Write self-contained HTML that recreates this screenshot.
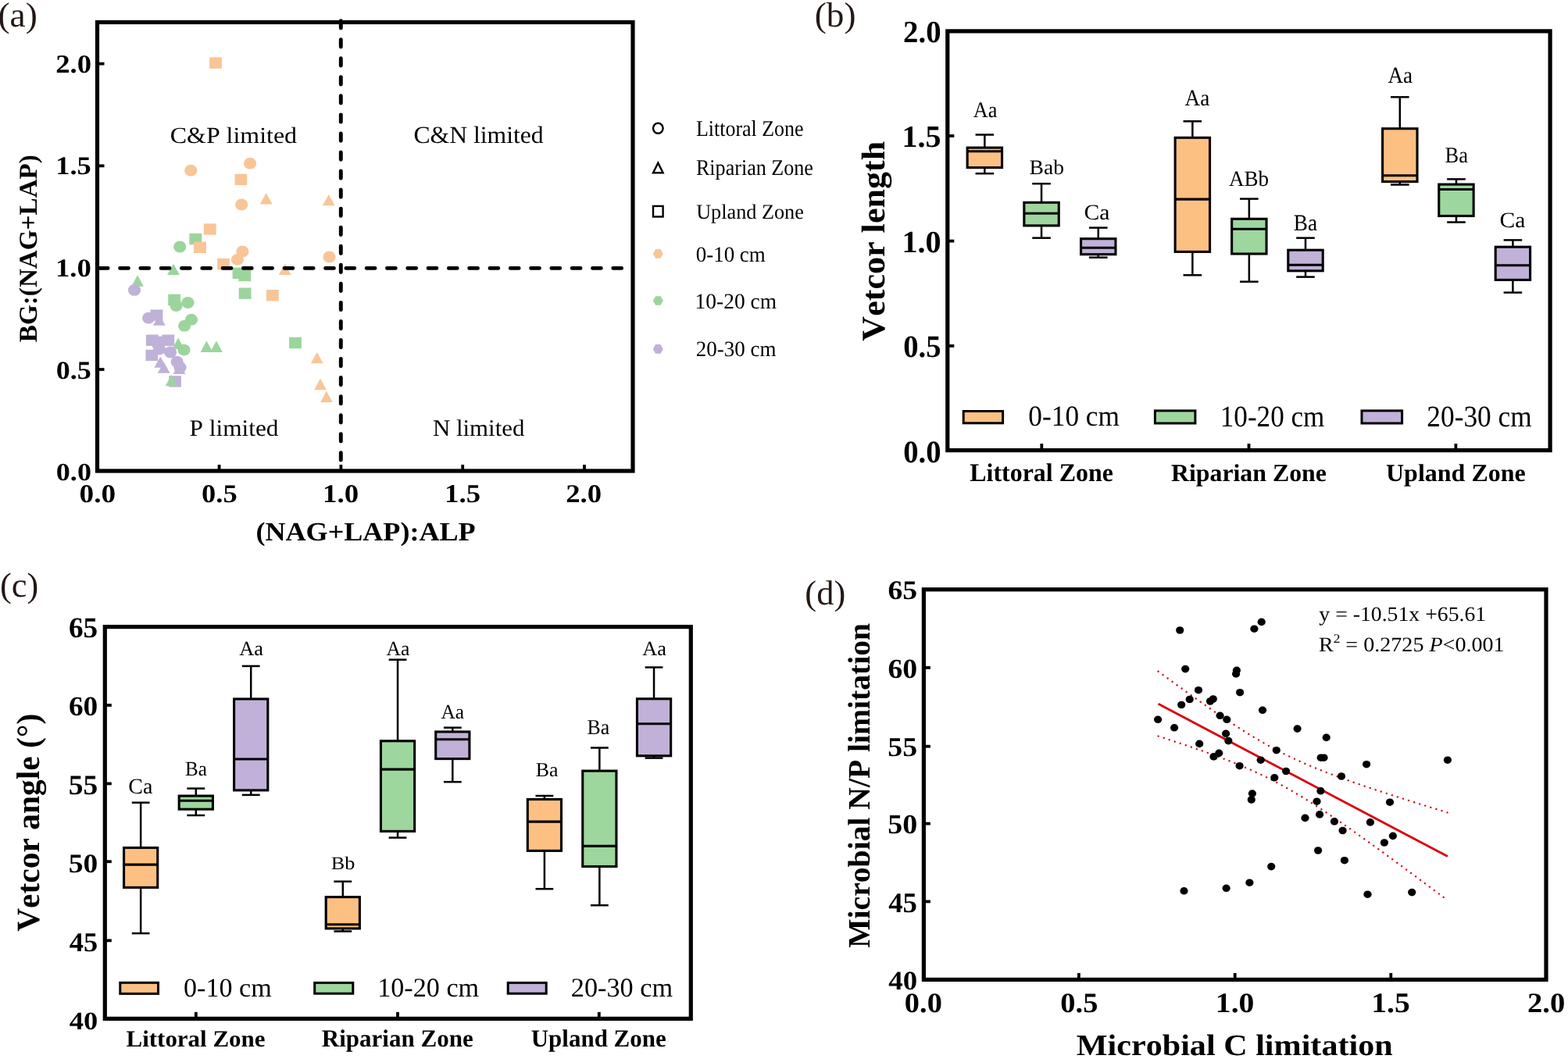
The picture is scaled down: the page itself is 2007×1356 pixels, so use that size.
<!DOCTYPE html>
<html><head><meta charset="utf-8"><title>Figure</title>
<style>
html,body{margin:0;padding:0;background:#fff;}
svg{display:block;}
text{font-kerning:none;text-rendering:geometricPrecision;}
</style></head><body>
<svg width="2007" height="1356" viewBox="0 0 2007 1356">
<rect width="2007" height="1356" fill="#fff"/>
<text transform="translate(-2.5,34.04) scale(1.0215,1)" style="font-family:'Liberation Serif',serif;font-size:44.45px" fill="#231815">(a)</text>
<text transform="translate(1042.81,34.11) scale(1.0138,1)" style="font-family:'Liberation Serif',serif;font-size:44.56px" fill="#231815">(b)</text>
<text transform="translate(0.05,764.19) scale(1.0045,1)" style="font-family:'Liberation Serif',serif;font-size:44.22px" fill="#231815">(c)</text>
<text transform="translate(1030.34,774.14) scale(1.0017,1)" style="font-family:'Liberation Serif',serif;font-size:44.45px" fill="#231815">(d)</text>
<rect x="192.6" y="396.4" width="15.8" height="14.4" fill="#c0b1d9"/>
<rect x="186.9" y="428.5" width="15.8" height="14.4" fill="#c0b1d9"/>
<rect x="207.4" y="428.5" width="15.8" height="14.4" fill="#c0b1d9"/>
<rect x="195" y="430.7" width="15.8" height="14.4" fill="#c0b1d9"/>
<rect x="186.4" y="447.7" width="15.8" height="14.4" fill="#c0b1d9"/>
<rect x="216.1" y="481.2" width="15.8" height="14.4" fill="#c0b1d9"/>
<rect x="242.4" y="298.8" width="15.8" height="14.4" fill="#9bd59c"/>
<rect x="297.6" y="342.6" width="15.8" height="14.4" fill="#9bd59c"/>
<rect x="305.4" y="345.8" width="15.8" height="14.4" fill="#9bd59c"/>
<rect x="305.7" y="368.5" width="15.8" height="14.4" fill="#9bd59c"/>
<rect x="215.2" y="376.7" width="15.8" height="14.4" fill="#9bd59c"/>
<rect x="370.1" y="431.8" width="15.8" height="14.4" fill="#9bd59c"/>
<rect x="268.1" y="73.4" width="15.8" height="14.4" fill="#f9c597"/>
<rect x="300.5" y="222.7" width="15.8" height="14.4" fill="#f9c597"/>
<rect x="260.8" y="286.3" width="15.8" height="14.4" fill="#f9c597"/>
<rect x="248.1" y="309.6" width="15.8" height="14.4" fill="#f9c597"/>
<rect x="278.1" y="330.9" width="15.8" height="14.4" fill="#f9c597"/>
<rect x="340.9" y="371" width="15.8" height="14.4" fill="#f9c597"/>
<path d="M203.8,402.4L211.7,416.8L195.9,416.8Z" fill="#c0b1d9"/>
<path d="M205.3,456.4L213.2,470.8L197.4,470.8Z" fill="#c0b1d9"/>
<path d="M209.7,463.4L217.6,477.8L201.8,477.8Z" fill="#c0b1d9"/>
<path d="M229.5,464.5L237.4,478.9L221.6,478.9Z" fill="#c0b1d9"/>
<path d="M222,337.7L229.9,352.1L214.1,352.1Z" fill="#9bd59c"/>
<path d="M176,352.3L183.9,366.7L168.1,366.7Z" fill="#9bd59c"/>
<path d="M264.4,436.5L272.3,450.9L256.5,450.9Z" fill="#9bd59c"/>
<path d="M276.9,436.5L284.8,450.9L269,450.9Z" fill="#9bd59c"/>
<path d="M228.1,432.6L236,447L220.2,447Z" fill="#9bd59c"/>
<path d="M219.5,479.9L227.4,494.3L211.6,494.3Z" fill="#9bd59c"/>
<path d="M340.7,247.1L348.6,261.5L332.8,261.5Z" fill="#f9c597"/>
<path d="M420.8,248.9L428.7,263.3L412.9,263.3Z" fill="#f9c597"/>
<path d="M364.7,337.7L372.6,352.1L356.8,352.1Z" fill="#f9c597"/>
<path d="M405.7,450.9L413.6,465.3L397.8,465.3Z" fill="#f9c597"/>
<path d="M410,484.8L417.9,499.2L402.1,499.2Z" fill="#f9c597"/>
<path d="M417.9,500.7L425.8,515.1L410,515.1Z" fill="#f9c597"/>
<ellipse cx="172" cy="371.4" rx="8.1" ry="7.4" fill="#c0b1d9"/>
<ellipse cx="190.1" cy="407.2" rx="8.1" ry="7.4" fill="#c0b1d9"/>
<ellipse cx="204" cy="447" rx="8.1" ry="7.4" fill="#c0b1d9"/>
<ellipse cx="218" cy="451" rx="8.1" ry="7.4" fill="#c0b1d9"/>
<ellipse cx="226.6" cy="463.2" rx="8.1" ry="7.4" fill="#c0b1d9"/>
<ellipse cx="230.5" cy="470.5" rx="8.1" ry="7.4" fill="#c0b1d9"/>
<ellipse cx="230.2" cy="316" rx="8.1" ry="7.4" fill="#9bd59c"/>
<ellipse cx="225.5" cy="391.5" rx="8.1" ry="7.4" fill="#9bd59c"/>
<ellipse cx="240.5" cy="387.5" rx="8.1" ry="7.4" fill="#9bd59c"/>
<ellipse cx="245" cy="409.2" rx="8.1" ry="7.4" fill="#9bd59c"/>
<ellipse cx="236.1" cy="417.2" rx="8.1" ry="7.4" fill="#9bd59c"/>
<ellipse cx="235.5" cy="448.1" rx="8.1" ry="7.4" fill="#9bd59c"/>
<ellipse cx="244.2" cy="218.2" rx="8.1" ry="7.4" fill="#f9c597"/>
<ellipse cx="320.1" cy="209.2" rx="8.1" ry="7.4" fill="#f9c597"/>
<ellipse cx="309.2" cy="262" rx="8.1" ry="7.4" fill="#f9c597"/>
<ellipse cx="310.4" cy="321.9" rx="8.1" ry="7.4" fill="#f9c597"/>
<ellipse cx="303.9" cy="332.3" rx="8.1" ry="7.4" fill="#f9c597"/>
<ellipse cx="421.5" cy="329" rx="8.1" ry="7.4" fill="#f9c597"/>
<line x1="127.25" y1="343.4" x2="807" y2="343.4" stroke="#000" stroke-width="4.8" stroke-linecap="round" stroke-dasharray="10.9 15.4"/>
<line x1="436.3" y1="26.6" x2="436.3" y2="601" stroke="#000" stroke-width="4.9" stroke-linecap="round" stroke-dasharray="9.3 14.75"/>
<rect x="124.5" y="28.5" width="685.5" height="574.5" fill="none" stroke="#000" stroke-width="5.2" stroke-linejoin="miter"/>
<line x1="124.5" y1="473.05" x2="133.5" y2="473.05" stroke="#000" stroke-width="3.8" />
<line x1="124.5" y1="212.35" x2="133.5" y2="212.35" stroke="#000" stroke-width="3.8" />
<line x1="124.5" y1="81.6" x2="133.5" y2="81.6" stroke="#000" stroke-width="3.8" />
<line x1="280.6" y1="603" x2="280.6" y2="595" stroke="#000" stroke-width="3.8" />
<line x1="592.2" y1="603" x2="592.2" y2="595" stroke="#000" stroke-width="3.8" />
<line x1="748" y1="603" x2="748" y2="595" stroke="#000" stroke-width="3.8" />
<line x1="124.5" y1="343.3" x2="133.5" y2="343.3" stroke="#000" stroke-width="3.8" />
<line x1="436.4" y1="603" x2="436.4" y2="595" stroke="#000" stroke-width="3.8" />
<text transform="translate(71.2,92.61) scale(1.1098,1)" style="font-family:'Liberation Serif',serif;font-weight:bold;font-size:33.16px" fill="#000">2.0</text>
<text transform="translate(71.18,223.43) scale(1.1069,1)" style="font-family:'Liberation Serif',serif;font-weight:bold;font-size:32.92px" fill="#000">1.5</text>
<text transform="translate(70.95,354.04) scale(1.1221,1)" style="font-family:'Liberation Serif',serif;font-weight:bold;font-size:32.83px" fill="#000">1.0</text>
<text transform="translate(71.83,484.74) scale(1.1037,1)" style="font-family:'Liberation Serif',serif;font-weight:bold;font-size:32.69px" fill="#000">0.5</text>
<text transform="translate(71.82,615.15) scale(1.1254,1)" style="font-family:'Liberation Serif',serif;font-weight:bold;font-size:32.10px" fill="#000">0.0</text>
<text transform="translate(101.58,642.73) scale(1.1314,1)" style="font-family:'Liberation Serif',serif;font-weight:bold;font-size:32.98px" fill="#000">0.0</text>
<text transform="translate(258.01,642.73) scale(1.1068,1)" style="font-family:'Liberation Serif',serif;font-weight:bold;font-size:32.98px" fill="#000">0.5</text>
<text transform="translate(412.94,642.73) scale(1.1198,1)" style="font-family:'Liberation Serif',serif;font-weight:bold;font-size:32.98px" fill="#000">1.0</text>
<text transform="translate(569.05,642.73) scale(1.1077,1)" style="font-family:'Liberation Serif',serif;font-weight:bold;font-size:33.22px" fill="#000">1.5</text>
<text transform="translate(724.16,642.73) scale(1.1145,1)" style="font-family:'Liberation Serif',serif;font-weight:bold;font-size:32.98px" fill="#000">2.0</text>
<text transform="translate(24.3,437.6) rotate(-90) translate(-0.55,22.88) scale(1.0063,1)" style="font-family:'Liberation Serif',serif;font-weight:bold;font-size:32.98px" fill="#000">BG:(NAG+LAP)</text>
<text transform="translate(327.41,692.1) scale(1.0694,1)" style="font-family:'Liberation Serif',serif;font-weight:bold;font-size:33.75px" fill="#000">(NAG+LAP):ALP</text>
<text transform="translate(217.79,183.21) scale(1.0904,1)" style="font-family:'Liberation Serif',serif;font-size:29.28px" fill="#000">C&amp;P limited</text>
<text transform="translate(529.4,183.3) scale(1.0223,1)" style="font-family:'Liberation Serif',serif;font-size:30.98px" fill="#000">C&amp;N limited</text>
<text transform="translate(242.6,558.41) scale(1.0535,1)" style="font-family:'Liberation Serif',serif;font-size:29.70px" fill="#000">P limited</text>
<text transform="translate(553.91,557.81) scale(1.0294,1)" style="font-family:'Liberation Serif',serif;font-size:29.99px" fill="#000">N limited</text>
<ellipse cx="842.3" cy="164.2" rx="6.3" ry="6.55" fill="none" stroke="#000" stroke-width="2.4"/>
<path d="M842.3,208.6L848.6,221.2L836,221.2Z" fill="none" stroke="#000" stroke-width="2.4" stroke-linejoin="miter"/>
<rect x="836" y="263.9" width="12.6" height="13.6" fill="none" stroke="#000" stroke-width="2.4"/>
<polygon points="848.8,324.95 845.55,330.8 839.05,330.8 835.8,324.95 839.05,319.1 845.55,319.1" fill="#f9c597"/>
<polygon points="848.8,385 845.55,390.85 839.05,390.85 835.8,385 839.05,379.15 845.55,379.15" fill="#9bd59c"/>
<polygon points="848.8,446.9 845.55,452.75 839.05,452.75 835.8,446.9 839.05,441.05 845.55,441.05" fill="#c0b1d9"/>
<text transform="translate(890.95,174.4) scale(0.9049,1)" style="font-family:'Liberation Serif',serif;font-size:28.68px" fill="#000">Littoral Zone</text>
<text transform="translate(890.95,223.9) scale(0.9097,1)" style="font-family:'Liberation Serif',serif;font-size:28.70px" fill="#000">Riparian Zone</text>
<text transform="translate(891.15,279.8) scale(0.9791,1)" style="font-family:'Liberation Serif',serif;font-size:26.81px" fill="#000">Upland Zone</text>
<text transform="translate(890.67,334.5) scale(0.9645,1)" style="font-family:'Liberation Serif',serif;font-size:27.97px" fill="#000">0-10 cm</text>
<text transform="translate(889.59,394.7) scale(0.9815,1)" style="font-family:'Liberation Serif',serif;font-size:27.97px" fill="#000">10-20 cm</text>
<text transform="translate(890.81,455.8) scale(0.9652,1)" style="font-family:'Liberation Serif',serif;font-size:27.97px" fill="#000">20-30 cm</text>
<line x1="1260.35" y1="172.5" x2="1260.35" y2="189.1" stroke="#000" stroke-width="2.5" />
<line x1="1260.35" y1="214.6" x2="1260.35" y2="222.2" stroke="#000" stroke-width="2.5" />
<line x1="1248.55" y1="172.5" x2="1272.15" y2="172.5" stroke="#000" stroke-width="2.5" />
<line x1="1248.55" y1="222.2" x2="1272.15" y2="222.2" stroke="#000" stroke-width="2.5" />
<rect x="1238.15" y="189.1" width="44.4" height="25.5" fill="#fdc083" stroke="#000" stroke-width="3.1"/>
<line x1="1238.15" y1="193.8" x2="1282.55" y2="193.8" stroke="#000" stroke-width="3.1" />
<line x1="1333.05" y1="235.2" x2="1333.05" y2="259.3" stroke="#000" stroke-width="2.5" />
<line x1="1333.05" y1="288.9" x2="1333.05" y2="304.7" stroke="#000" stroke-width="2.5" />
<line x1="1321.25" y1="235.2" x2="1344.85" y2="235.2" stroke="#000" stroke-width="2.5" />
<line x1="1321.25" y1="304.7" x2="1344.85" y2="304.7" stroke="#000" stroke-width="2.5" />
<rect x="1310.85" y="259.3" width="44.4" height="29.6" fill="#9dd79d" stroke="#000" stroke-width="3.1"/>
<line x1="1310.85" y1="273.3" x2="1355.25" y2="273.3" stroke="#000" stroke-width="3.1" />
<line x1="1405.75" y1="291.6" x2="1405.75" y2="305.7" stroke="#000" stroke-width="2.5" />
<line x1="1405.75" y1="325.7" x2="1405.75" y2="329.7" stroke="#000" stroke-width="2.5" />
<line x1="1393.95" y1="291.6" x2="1417.55" y2="291.6" stroke="#000" stroke-width="2.5" />
<line x1="1393.95" y1="329.7" x2="1417.55" y2="329.7" stroke="#000" stroke-width="2.5" />
<rect x="1383.55" y="305.7" width="44.4" height="20" fill="#c1b1d8" stroke="#000" stroke-width="3.1"/>
<line x1="1383.55" y1="317.2" x2="1427.95" y2="317.2" stroke="#000" stroke-width="3.1" />
<line x1="1526.35" y1="155.3" x2="1526.35" y2="176.3" stroke="#000" stroke-width="2.5" />
<line x1="1526.35" y1="322.4" x2="1526.35" y2="352.3" stroke="#000" stroke-width="2.5" />
<line x1="1514.55" y1="155.3" x2="1538.15" y2="155.3" stroke="#000" stroke-width="2.5" />
<line x1="1514.55" y1="352.3" x2="1538.15" y2="352.3" stroke="#000" stroke-width="2.5" />
<rect x="1504.15" y="176.3" width="44.4" height="146.1" fill="#fdc083" stroke="#000" stroke-width="3.1"/>
<line x1="1504.15" y1="255.1" x2="1548.55" y2="255.1" stroke="#000" stroke-width="3.1" />
<line x1="1598.85" y1="254.6" x2="1598.85" y2="280.3" stroke="#000" stroke-width="2.5" />
<line x1="1598.85" y1="325" x2="1598.85" y2="360.7" stroke="#000" stroke-width="2.5" />
<line x1="1587.05" y1="254.6" x2="1610.65" y2="254.6" stroke="#000" stroke-width="2.5" />
<line x1="1587.05" y1="360.7" x2="1610.65" y2="360.7" stroke="#000" stroke-width="2.5" />
<rect x="1576.65" y="280.3" width="44.4" height="44.7" fill="#9dd79d" stroke="#000" stroke-width="3.1"/>
<line x1="1576.65" y1="293.2" x2="1621.05" y2="293.2" stroke="#000" stroke-width="3.1" />
<line x1="1671" y1="304.7" x2="1671" y2="320.2" stroke="#000" stroke-width="2.5" />
<line x1="1671" y1="346.8" x2="1671" y2="354.6" stroke="#000" stroke-width="2.5" />
<line x1="1659.2" y1="304.7" x2="1682.8" y2="304.7" stroke="#000" stroke-width="2.5" />
<line x1="1659.2" y1="354.6" x2="1682.8" y2="354.6" stroke="#000" stroke-width="2.5" />
<rect x="1648.8" y="320.2" width="44.4" height="26.6" fill="#c1b1d8" stroke="#000" stroke-width="3.1"/>
<line x1="1648.8" y1="339.2" x2="1693.2" y2="339.2" stroke="#000" stroke-width="3.1" />
<line x1="1791.8" y1="124.3" x2="1791.8" y2="164.7" stroke="#000" stroke-width="2.5" />
<line x1="1791.8" y1="232.6" x2="1791.8" y2="236.5" stroke="#000" stroke-width="2.5" />
<line x1="1780" y1="124.3" x2="1803.6" y2="124.3" stroke="#000" stroke-width="2.5" />
<line x1="1780" y1="236.5" x2="1803.6" y2="236.5" stroke="#000" stroke-width="2.5" />
<rect x="1769.6" y="164.7" width="44.4" height="67.9" fill="#fdc083" stroke="#000" stroke-width="3.1"/>
<line x1="1769.6" y1="224.7" x2="1814" y2="224.7" stroke="#000" stroke-width="3.1" />
<line x1="1863.95" y1="229.4" x2="1863.95" y2="236.1" stroke="#000" stroke-width="2.5" />
<line x1="1863.95" y1="276.5" x2="1863.95" y2="284.5" stroke="#000" stroke-width="2.5" />
<line x1="1852.15" y1="229.4" x2="1875.75" y2="229.4" stroke="#000" stroke-width="2.5" />
<line x1="1852.15" y1="284.5" x2="1875.75" y2="284.5" stroke="#000" stroke-width="2.5" />
<rect x="1841.75" y="236.1" width="44.4" height="40.4" fill="#9dd79d" stroke="#000" stroke-width="3.1"/>
<line x1="1841.75" y1="242.5" x2="1886.15" y2="242.5" stroke="#000" stroke-width="3.1" />
<line x1="1936.4" y1="307.4" x2="1936.4" y2="316.2" stroke="#000" stroke-width="2.5" />
<line x1="1936.4" y1="358.4" x2="1936.4" y2="374.6" stroke="#000" stroke-width="2.5" />
<line x1="1924.6" y1="307.4" x2="1948.2" y2="307.4" stroke="#000" stroke-width="2.5" />
<line x1="1924.6" y1="374.6" x2="1948.2" y2="374.6" stroke="#000" stroke-width="2.5" />
<rect x="1914.2" y="316.2" width="44.4" height="42.2" fill="#c1b1d8" stroke="#000" stroke-width="3.1"/>
<line x1="1914.2" y1="339.7" x2="1958.6" y2="339.7" stroke="#000" stroke-width="3.1" />
<rect x="1212.8" y="39.9" width="771.3" height="536.7" fill="none" stroke="#000" stroke-width="5.2" stroke-linejoin="miter"/>
<line x1="1212.8" y1="174" x2="1221.3" y2="174" stroke="#000" stroke-width="3.8" />
<line x1="1212.8" y1="308.6" x2="1221.3" y2="308.6" stroke="#000" stroke-width="3.8" />
<line x1="1212.8" y1="442.9" x2="1221.3" y2="442.9" stroke="#000" stroke-width="3.8" />
<line x1="1333.3" y1="576.6" x2="1333.3" y2="568.1" stroke="#000" stroke-width="3.8" />
<line x1="1598.5" y1="576.6" x2="1598.5" y2="568.1" stroke="#000" stroke-width="3.8" />
<line x1="1863.4" y1="576.6" x2="1863.4" y2="568.1" stroke="#000" stroke-width="3.8" />
<text transform="translate(1156.07,54.24) scale(0.9798,1)" style="font-family:'Liberation Serif',serif;font-weight:bold;font-size:39.61px" fill="#000">2.0</text>
<text transform="translate(1154.49,188.34) scale(1.0117,1)" style="font-family:'Liberation Serif',serif;font-weight:bold;font-size:39.60px" fill="#000">1.5</text>
<text transform="translate(1154.49,322.64) scale(1.0128,1)" style="font-family:'Liberation Serif',serif;font-weight:bold;font-size:39.61px" fill="#000">1.0</text>
<text transform="translate(1156.23,457.23) scale(0.9646,1)" style="font-family:'Liberation Serif',serif;font-weight:bold;font-size:40.05px" fill="#000">0.5</text>
<text transform="translate(1156.23,591.63) scale(0.9622,1)" style="font-family:'Liberation Serif',serif;font-weight:bold;font-size:40.19px" fill="#000">0.0</text>
<text transform="translate(1102.8,436.2) rotate(-90) translate(-0.5,29.28) scale(1.0449,1)" style="font-family:'Liberation Serif',serif;font-weight:bold;font-size:42.21px" fill="#000">Vetcor length</text>
<text transform="translate(1241.25,616.18) scale(0.9731,1)" style="font-family:'Liberation Serif',serif;font-weight:bold;font-size:32.83px" fill="#000">Littoral Zone</text>
<text transform="translate(1498.96,616.39) scale(1.0091,1)" style="font-family:'Liberation Serif',serif;font-weight:bold;font-size:31.54px" fill="#000">Riparian Zone</text>
<text transform="translate(1774,616.39) scale(1.0151,1)" style="font-family:'Liberation Serif',serif;font-weight:bold;font-size:31.54px" fill="#000">Upland Zone</text>
<text transform="translate(1245.84,150.22) scale(0.9289,1)" style="font-family:'Liberation Serif',serif;font-size:28.36px" fill="#000">Aa</text>
<text transform="translate(1317.61,222.94) scale(1.0327,1)" style="font-family:'Liberation Serif',serif;font-size:26.72px" fill="#000">Bab</text>
<text transform="translate(1387.38,280.53) scale(1.0591,1)" style="font-family:'Liberation Serif',serif;font-size:27.98px" fill="#000">Ca</text>
<text transform="translate(1516.54,134.51) scale(0.9226,1)" style="font-family:'Liberation Serif',serif;font-size:29.41px" fill="#000">Aa</text>
<text transform="translate(1572.94,238.33) scale(0.9679,1)" style="font-family:'Liberation Serif',serif;font-size:28.00px" fill="#000">ABb</text>
<text transform="translate(1655.72,294.71) scale(0.9188,1)" style="font-family:'Liberation Serif',serif;font-size:29.64px" fill="#000">Ba</text>
<text transform="translate(1776.44,105.71) scale(0.9226,1)" style="font-family:'Liberation Serif',serif;font-size:29.41px" fill="#000">Aa</text>
<text transform="translate(1849.54,207.52) scale(0.9216,1)" style="font-family:'Liberation Serif',serif;font-size:28.74px" fill="#000">Ba</text>
<text transform="translate(1919.49,290.83) scale(1.0502,1)" style="font-family:'Liberation Serif',serif;font-size:28.13px" fill="#000">Ca</text>
<rect x="1233.2" y="526.5" width="50.4" height="15.3" fill="#fdc083" stroke="#000" stroke-width="3"/>
<text transform="translate(1316.36,545.44) scale(0.9485,1)" style="font-family:'Liberation Serif',serif;font-size:37.20px" fill="#000">0-10 cm</text>
<rect x="1478.4" y="525.9" width="51.5" height="16.1" fill="#9dd79d" stroke="#000" stroke-width="3"/>
<text transform="translate(1561.81,545.83) scale(0.9151,1)" style="font-family:'Liberation Serif',serif;font-size:38.38px" fill="#000">10-20 cm</text>
<rect x="1743" y="525.9" width="51.6" height="16.1" fill="#c1b1d8" stroke="#000" stroke-width="3"/>
<text transform="translate(1826.35,545.83) scale(0.9197,1)" style="font-family:'Liberation Serif',serif;font-size:38.38px" fill="#000">20-30 cm</text>
<line x1="180.15" y1="1027.7" x2="180.15" y2="1085.5" stroke="#000" stroke-width="2.5" />
<line x1="180.15" y1="1136.4" x2="180.15" y2="1195.1" stroke="#000" stroke-width="2.5" />
<line x1="168.75" y1="1027.7" x2="191.55" y2="1027.7" stroke="#000" stroke-width="2.5" />
<line x1="168.75" y1="1195.1" x2="191.55" y2="1195.1" stroke="#000" stroke-width="2.5" />
<rect x="158.55" y="1085.5" width="43.2" height="50.9" fill="#fdc083" stroke="#000" stroke-width="3.1"/>
<line x1="158.55" y1="1107.1" x2="201.75" y2="1107.1" stroke="#000" stroke-width="3.1" />
<line x1="250.8" y1="1009.6" x2="250.8" y2="1019.1" stroke="#000" stroke-width="2.5" />
<line x1="250.8" y1="1036.2" x2="250.8" y2="1044" stroke="#000" stroke-width="2.5" />
<line x1="239.4" y1="1009.6" x2="262.2" y2="1009.6" stroke="#000" stroke-width="2.5" />
<line x1="239.4" y1="1044" x2="262.2" y2="1044" stroke="#000" stroke-width="2.5" />
<rect x="229.2" y="1019.1" width="43.2" height="17.1" fill="#9dd79d" stroke="#000" stroke-width="3.1"/>
<line x1="229.2" y1="1025.3" x2="272.4" y2="1025.3" stroke="#000" stroke-width="3.1" />
<line x1="321.2" y1="852.9" x2="321.2" y2="895" stroke="#000" stroke-width="2.5" />
<line x1="321.2" y1="1011.9" x2="321.2" y2="1017.9" stroke="#000" stroke-width="2.5" />
<line x1="309.8" y1="852.9" x2="332.6" y2="852.9" stroke="#000" stroke-width="2.5" />
<line x1="309.8" y1="1017.9" x2="332.6" y2="1017.9" stroke="#000" stroke-width="2.5" />
<rect x="299.6" y="895" width="43.2" height="116.9" fill="#c1b1d8" stroke="#000" stroke-width="3.1"/>
<line x1="299.6" y1="972" x2="342.8" y2="972" stroke="#000" stroke-width="3.1" />
<line x1="438.8" y1="1128.7" x2="438.8" y2="1148.6" stroke="#000" stroke-width="2.5" />
<line x1="438.8" y1="1188.9" x2="438.8" y2="1192.5" stroke="#000" stroke-width="2.5" />
<line x1="427.4" y1="1128.7" x2="450.2" y2="1128.7" stroke="#000" stroke-width="2.5" />
<line x1="427.4" y1="1192.5" x2="450.2" y2="1192.5" stroke="#000" stroke-width="2.5" />
<rect x="417.2" y="1148.6" width="43.2" height="40.3" fill="#fdc083" stroke="#000" stroke-width="3.1"/>
<line x1="417.2" y1="1183.8" x2="460.4" y2="1183.8" stroke="#000" stroke-width="3.1" />
<line x1="509.05" y1="844.7" x2="509.05" y2="948.8" stroke="#000" stroke-width="2.5" />
<line x1="509.05" y1="1064.4" x2="509.05" y2="1072.6" stroke="#000" stroke-width="2.5" />
<line x1="497.65" y1="844.7" x2="520.45" y2="844.7" stroke="#000" stroke-width="2.5" />
<line x1="497.65" y1="1072.6" x2="520.45" y2="1072.6" stroke="#000" stroke-width="2.5" />
<rect x="487.45" y="948.8" width="43.2" height="115.6" fill="#9dd79d" stroke="#000" stroke-width="3.1"/>
<line x1="487.45" y1="985.1" x2="530.65" y2="985.1" stroke="#000" stroke-width="3.1" />
<line x1="579.3" y1="931.7" x2="579.3" y2="937" stroke="#000" stroke-width="2.5" />
<line x1="579.3" y1="971.6" x2="579.3" y2="1001.2" stroke="#000" stroke-width="2.5" />
<line x1="567.9" y1="931.7" x2="590.7" y2="931.7" stroke="#000" stroke-width="2.5" />
<line x1="567.9" y1="1001.2" x2="590.7" y2="1001.2" stroke="#000" stroke-width="2.5" />
<rect x="557.7" y="937" width="43.2" height="34.6" fill="#c1b1d8" stroke="#000" stroke-width="3.1"/>
<line x1="557.7" y1="946.8" x2="600.9" y2="946.8" stroke="#000" stroke-width="3.1" />
<line x1="696.9" y1="1019" x2="696.9" y2="1023.5" stroke="#000" stroke-width="2.5" />
<line x1="696.9" y1="1089.4" x2="696.9" y2="1138.2" stroke="#000" stroke-width="2.5" />
<line x1="685.5" y1="1019" x2="708.3" y2="1019" stroke="#000" stroke-width="2.5" />
<line x1="685.5" y1="1138.2" x2="708.3" y2="1138.2" stroke="#000" stroke-width="2.5" />
<rect x="675.3" y="1023.5" width="43.2" height="65.9" fill="#fdc083" stroke="#000" stroke-width="3.1"/>
<line x1="675.3" y1="1052.1" x2="718.5" y2="1052.1" stroke="#000" stroke-width="3.1" />
<line x1="767.35" y1="957.5" x2="767.35" y2="987.1" stroke="#000" stroke-width="2.5" />
<line x1="767.35" y1="1109.5" x2="767.35" y2="1159.2" stroke="#000" stroke-width="2.5" />
<line x1="755.95" y1="957.5" x2="778.75" y2="957.5" stroke="#000" stroke-width="2.5" />
<line x1="755.95" y1="1159.2" x2="778.75" y2="1159.2" stroke="#000" stroke-width="2.5" />
<rect x="745.75" y="987.1" width="43.2" height="122.4" fill="#9dd79d" stroke="#000" stroke-width="3.1"/>
<line x1="745.75" y1="1083.4" x2="788.95" y2="1083.4" stroke="#000" stroke-width="3.1" />
<line x1="837.05" y1="854.5" x2="837.05" y2="894.8" stroke="#000" stroke-width="2.5" />
<line x1="837.05" y1="967.8" x2="837.05" y2="970.6" stroke="#000" stroke-width="2.5" />
<line x1="825.65" y1="854.5" x2="848.45" y2="854.5" stroke="#000" stroke-width="2.5" />
<line x1="825.65" y1="970.6" x2="848.45" y2="970.6" stroke="#000" stroke-width="2.5" />
<rect x="815.45" y="894.8" width="43.2" height="73" fill="#c1b1d8" stroke="#000" stroke-width="3.1"/>
<line x1="815.45" y1="926.7" x2="858.65" y2="926.7" stroke="#000" stroke-width="3.1" />
<rect x="134.3" y="802.6" width="750" height="501.8" fill="none" stroke="#000" stroke-width="5.2" stroke-linejoin="miter"/>
<line x1="134.3" y1="903" x2="142.8" y2="903" stroke="#000" stroke-width="3.8" />
<line x1="134.3" y1="1003.4" x2="142.8" y2="1003.4" stroke="#000" stroke-width="3.8" />
<line x1="134.3" y1="1103.2" x2="142.8" y2="1103.2" stroke="#000" stroke-width="3.8" />
<line x1="134.3" y1="1204.3" x2="142.8" y2="1204.3" stroke="#000" stroke-width="3.8" />
<line x1="250.8" y1="1304.4" x2="250.8" y2="1295.9" stroke="#000" stroke-width="3.8" />
<line x1="509" y1="1304.4" x2="509" y2="1295.9" stroke="#000" stroke-width="3.8" />
<line x1="766.8" y1="1304.4" x2="766.8" y2="1295.9" stroke="#000" stroke-width="3.8" />
<text transform="translate(87.93,816.14) scale(1.0007,1)" style="font-family:'Liberation Serif',serif;font-weight:bold;font-size:37.21px" fill="#000">65</text>
<text transform="translate(87.93,916.46) scale(1.0574,1)" style="font-family:'Liberation Serif',serif;font-weight:bold;font-size:35.27px" fill="#000">60</text>
<text transform="translate(87.7,1016.75) scale(1.0463,1)" style="font-family:'Liberation Serif',serif;font-weight:bold;font-size:35.81px" fill="#000">55</text>
<text transform="translate(87.7,1117.27) scale(1.0964,1)" style="font-family:'Liberation Serif',serif;font-weight:bold;font-size:34.23px" fill="#000">50</text>
<text transform="translate(88.7,1218.46) scale(1.0489,1)" style="font-family:'Liberation Serif',serif;font-weight:bold;font-size:34.73px" fill="#000">45</text>
<text transform="translate(88.7,1318.18) scale(1.1295,1)" style="font-family:'Liberation Serif',serif;font-weight:bold;font-size:32.31px" fill="#000">40</text>
<text transform="translate(21.4,1192.4) rotate(-90) translate(-0.47,28.91) scale(0.9954,1)" style="font-family:'Liberation Serif',serif;font-weight:bold;font-size:41.66px" fill="#000">Vetcor angle (°)</text>
<text transform="translate(161.47,1339.81) scale(1.0381,1)" style="font-family:'Liberation Serif',serif;font-weight:bold;font-size:29.85px" fill="#000">Littoral Zone</text>
<text transform="translate(411.87,1339.61) scale(0.9865,1)" style="font-family:'Liberation Serif',serif;font-weight:bold;font-size:31.43px" fill="#000">Riparian Zone</text>
<text transform="translate(679.73,1339.61) scale(0.9858,1)" style="font-family:'Liberation Serif',serif;font-weight:bold;font-size:31.43px" fill="#000">Upland Zone</text>
<text transform="translate(164.35,1015.63) scale(1.0016,1)" style="font-family:'Liberation Serif',serif;font-size:27.98px" fill="#000">Ca</text>
<text transform="translate(236.98,993.04) scale(0.9526,1)" style="font-family:'Liberation Serif',serif;font-size:26.33px" fill="#000">Ba</text>
<text transform="translate(306.14,838.84) scale(1.0085,1)" style="font-family:'Liberation Serif',serif;font-size:26.12px" fill="#000">Aa</text>
<text transform="translate(423.84,1113.47) scale(1.1203,1)" style="font-family:'Liberation Serif',serif;font-size:23.45px" fill="#000">Bb</text>
<text transform="translate(494.55,838.64) scale(0.9817,1)" style="font-family:'Liberation Serif',serif;font-size:26.12px" fill="#000">Aa</text>
<text transform="translate(564.45,920.14) scale(0.9750,1)" style="font-family:'Liberation Serif',serif;font-size:26.12px" fill="#000">Aa</text>
<text transform="translate(685.86,993.65) scale(1.0040,1)" style="font-family:'Liberation Serif',serif;font-size:25.73px" fill="#000">Ba</text>
<text transform="translate(751.56,940.23) scale(0.9485,1)" style="font-family:'Liberation Serif',serif;font-size:27.24px" fill="#000">Ba</text>
<text transform="translate(822.24,838.64) scale(1.0085,1)" style="font-family:'Liberation Serif',serif;font-size:26.12px" fill="#000">Aa</text>
<rect x="153.8" y="1258.3" width="48.7" height="14.1" fill="#fdc083" stroke="#000" stroke-width="3"/>
<text transform="translate(235,1275.97) scale(1.0052,1)" style="font-family:'Liberation Serif',serif;font-size:33.94px" fill="#000">0-10 cm</text>
<rect x="402.7" y="1258.4" width="49.1" height="13.8" fill="#9dd79d" stroke="#000" stroke-width="3"/>
<text transform="translate(483.2,1275.96) scale(0.9891,1)" style="font-family:'Liberation Serif',serif;font-size:34.53px" fill="#000">10-20 cm</text>
<rect x="650.2" y="1258.4" width="49" height="13.8" fill="#c1b1d8" stroke="#000" stroke-width="3"/>
<text transform="translate(730.79,1275.96) scale(0.9922,1)" style="font-family:'Liberation Serif',serif;font-size:34.53px" fill="#000">20-30 cm</text>
<path d="M1482.6,859.76 L1486.3,862.47 L1490,865.18 L1493.7,867.88 L1497.4,870.58 L1501.1,873.27 L1504.8,875.95 L1508.5,878.63 L1512.2,881.3 L1515.9,883.96 L1519.6,886.62 L1523.3,889.26 L1527,891.9 L1530.7,894.53 L1534.4,897.15 L1538.1,899.76 L1541.8,902.35 L1545.5,904.93 L1549.2,907.51 L1552.9,910.06 L1556.6,912.6 L1560.3,915.13 L1564,917.64 L1567.7,920.13 L1571.4,922.6 L1575.1,925.06 L1578.8,927.49 L1582.5,929.89 L1586.2,932.28 L1589.9,934.64 L1593.6,936.97 L1597.3,939.27 L1601,941.55 L1604.7,943.79 L1608.4,946 L1612.1,948.18 L1615.8,950.33 L1619.5,952.44 L1623.2,954.51 L1626.9,956.55 L1630.6,958.55 L1634.3,960.51 L1638,962.44 L1641.7,964.33 L1645.4,966.18 L1649.1,967.99 L1652.8,969.77 L1656.5,971.52 L1660.2,973.23 L1663.9,974.91 L1667.6,976.56 L1671.3,978.18 L1675,979.76 L1678.7,981.33 L1682.4,982.86 L1686.1,984.37 L1689.8,985.86 L1693.5,987.32 L1697.2,988.77 L1700.9,990.19 L1704.6,991.6 L1708.3,992.98 L1712,994.36 L1715.7,995.71 L1719.4,997.05 L1723.1,998.38 L1726.8,999.7 L1730.5,1001 L1734.2,1002.3 L1737.9,1003.58 L1741.6,1004.85 L1745.3,1006.11 L1749,1007.37 L1752.7,1008.62 L1756.4,1009.85 L1760.1,1011.09 L1763.8,1012.31 L1767.5,1013.53 L1771.2,1014.74 L1774.9,1015.95 L1778.6,1017.15 L1782.3,1018.35 L1786,1019.54 L1789.7,1020.72 L1793.4,1021.91 L1797.1,1023.08 L1800.8,1024.26 L1804.5,1025.43 L1808.2,1026.6 L1811.9,1027.76 L1815.6,1028.92 L1819.3,1030.08 L1823,1031.23 L1826.7,1032.39 L1830.4,1033.54 L1834.1,1034.68 L1837.8,1035.83 L1841.5,1036.97 L1845.2,1038.11 L1848.9,1039.25 L1852.6,1040.39" fill="none" stroke="#d9000f" stroke-width="2.4" stroke-linecap="round" stroke-dasharray="0.01 7.4"/>
<path d="M1482.6,942.64 L1486.3,943.83 L1490,945.03 L1493.7,946.23 L1497.4,947.44 L1501.1,948.66 L1504.8,949.88 L1508.5,951.1 L1512.2,952.34 L1515.9,953.58 L1519.6,954.83 L1523.3,956.09 L1527,957.36 L1530.7,958.63 L1534.4,959.92 L1538.1,961.22 L1541.8,962.53 L1545.5,963.85 L1549.2,965.18 L1552.9,966.53 L1556.6,967.9 L1560.3,969.27 L1564,970.67 L1567.7,972.08 L1571.4,973.52 L1575.1,974.97 L1578.8,976.44 L1582.5,977.94 L1586.2,979.46 L1589.9,981.01 L1593.6,982.58 L1597.3,984.18 L1601,985.81 L1604.7,987.47 L1608.4,989.16 L1612.1,990.89 L1615.8,992.65 L1619.5,994.45 L1623.2,996.28 L1626.9,998.14 L1630.6,1000.05 L1634.3,1001.99 L1638,1003.97 L1641.7,1005.99 L1645.4,1008.04 L1649.1,1010.13 L1652.8,1012.25 L1656.5,1014.41 L1660.2,1016.61 L1663.9,1018.83 L1667.6,1021.09 L1671.3,1023.38 L1675,1025.7 L1678.7,1028.04 L1682.4,1030.41 L1686.1,1032.8 L1689.8,1035.22 L1693.5,1037.66 L1697.2,1040.12 L1700.9,1042.6 L1704.6,1045.1 L1708.3,1047.62 L1712,1050.15 L1715.7,1052.7 L1719.4,1055.26 L1723.1,1057.84 L1726.8,1060.43 L1730.5,1063.03 L1734.2,1065.64 L1737.9,1068.26 L1741.6,1070.9 L1745.3,1073.54 L1749,1076.19 L1752.7,1078.85 L1756.4,1081.51 L1760.1,1084.19 L1763.8,1086.87 L1767.5,1089.55 L1771.2,1092.25 L1774.9,1094.94 L1778.6,1097.65 L1782.3,1100.36 L1786,1103.07 L1789.7,1105.79 L1793.4,1108.51 L1797.1,1111.24 L1800.8,1113.97 L1804.5,1116.7 L1808.2,1119.44 L1811.9,1122.18 L1815.6,1124.93 L1819.3,1127.67 L1823,1130.42 L1826.7,1133.18 L1830.4,1135.93 L1834.1,1138.69 L1837.8,1141.45 L1841.5,1144.21 L1845.2,1146.98 L1848.9,1149.74 L1852.6,1152.51" fill="none" stroke="#d9000f" stroke-width="2.4" stroke-linecap="round" stroke-dasharray="0.01 7.4"/>
<line x1="1482.6" y1="901.2" x2="1852.9" y2="1096.61" stroke="#d9000f" stroke-width="2.8" />
<ellipse cx="1510.2" cy="807" rx="5.1" ry="4.8" fill="#000"/>
<ellipse cx="1605.4" cy="805.2" rx="5.1" ry="4.8" fill="#000"/>
<ellipse cx="1614.7" cy="796.4" rx="5.1" ry="4.8" fill="#000"/>
<ellipse cx="1517.2" cy="856.6" rx="5.1" ry="4.8" fill="#000"/>
<ellipse cx="1582.9" cy="858.4" rx="5.1" ry="4.8" fill="#000"/>
<ellipse cx="1582.1" cy="862.9" rx="5.1" ry="4.8" fill="#000"/>
<ellipse cx="1534" cy="883.7" rx="5.1" ry="4.8" fill="#000"/>
<ellipse cx="1587.1" cy="886.7" rx="5.1" ry="4.8" fill="#000"/>
<ellipse cx="1522.7" cy="895.5" rx="5.1" ry="4.8" fill="#000"/>
<ellipse cx="1552.8" cy="895" rx="5.1" ry="4.8" fill="#000"/>
<ellipse cx="1549" cy="898" rx="5.1" ry="4.8" fill="#000"/>
<ellipse cx="1512.2" cy="902.5" rx="5.1" ry="4.8" fill="#000"/>
<ellipse cx="1616" cy="909.3" rx="5.1" ry="4.8" fill="#000"/>
<ellipse cx="1482.1" cy="921.3" rx="5.1" ry="4.8" fill="#000"/>
<ellipse cx="1561.6" cy="916.3" rx="5.1" ry="4.8" fill="#000"/>
<ellipse cx="1570.3" cy="921.3" rx="5.1" ry="4.8" fill="#000"/>
<ellipse cx="1503.1" cy="931.8" rx="5.1" ry="4.8" fill="#000"/>
<ellipse cx="1660.6" cy="933.1" rx="5.1" ry="4.8" fill="#000"/>
<ellipse cx="1569.1" cy="939.4" rx="5.1" ry="4.8" fill="#000"/>
<ellipse cx="1697.7" cy="944.4" rx="5.1" ry="4.8" fill="#000"/>
<ellipse cx="1572.3" cy="948.6" rx="5.1" ry="4.8" fill="#000"/>
<ellipse cx="1535.2" cy="952.4" rx="5.1" ry="4.8" fill="#000"/>
<ellipse cx="1633.8" cy="960.7" rx="5.1" ry="4.8" fill="#000"/>
<ellipse cx="1560.3" cy="964.4" rx="5.1" ry="4.8" fill="#000"/>
<ellipse cx="1553.5" cy="968.9" rx="5.1" ry="4.8" fill="#000"/>
<ellipse cx="1690.7" cy="970.2" rx="5.1" ry="4.8" fill="#000"/>
<ellipse cx="1694.5" cy="970.2" rx="5.1" ry="4.8" fill="#000"/>
<ellipse cx="1852.9" cy="973.2" rx="5.1" ry="4.8" fill="#000"/>
<ellipse cx="1613.7" cy="973.2" rx="5.1" ry="4.8" fill="#000"/>
<ellipse cx="1749.1" cy="978.7" rx="5.1" ry="4.8" fill="#000"/>
<ellipse cx="1586.6" cy="980.7" rx="5.1" ry="4.8" fill="#000"/>
<ellipse cx="1646.1" cy="987.5" rx="5.1" ry="4.8" fill="#000"/>
<ellipse cx="1717" cy="994" rx="5.1" ry="4.8" fill="#000"/>
<ellipse cx="1631.3" cy="995.8" rx="5.1" ry="4.8" fill="#000"/>
<ellipse cx="1690.4" cy="1012.8" rx="5.1" ry="4.8" fill="#000"/>
<ellipse cx="1602.9" cy="1016.1" rx="5.1" ry="4.8" fill="#000"/>
<ellipse cx="1601.8" cy="1024" rx="5.1" ry="4.8" fill="#000"/>
<ellipse cx="1685.5" cy="1026.2" rx="5.1" ry="4.8" fill="#000"/>
<ellipse cx="1779" cy="1027.2" rx="5.1" ry="4.8" fill="#000"/>
<ellipse cx="1670.5" cy="1047.4" rx="5.1" ry="4.8" fill="#000"/>
<ellipse cx="1689.1" cy="1042.9" rx="5.1" ry="4.8" fill="#000"/>
<ellipse cx="1708" cy="1051.9" rx="5.1" ry="4.8" fill="#000"/>
<ellipse cx="1753.9" cy="1052.9" rx="5.1" ry="4.8" fill="#000"/>
<ellipse cx="1718.6" cy="1063.5" rx="5.1" ry="4.8" fill="#000"/>
<ellipse cx="1782.9" cy="1070.4" rx="5.1" ry="4.8" fill="#000"/>
<ellipse cx="1771.9" cy="1079" rx="5.1" ry="4.8" fill="#000"/>
<ellipse cx="1687.1" cy="1089" rx="5.1" ry="4.8" fill="#000"/>
<ellipse cx="1720.9" cy="1101.7" rx="5.1" ry="4.8" fill="#000"/>
<ellipse cx="1627.2" cy="1109.6" rx="5.1" ry="4.8" fill="#000"/>
<ellipse cx="1599.4" cy="1130.2" rx="5.1" ry="4.8" fill="#000"/>
<ellipse cx="1569.6" cy="1137.3" rx="5.1" ry="4.8" fill="#000"/>
<ellipse cx="1515.5" cy="1140.8" rx="5.1" ry="4.8" fill="#000"/>
<ellipse cx="1750.5" cy="1145.2" rx="5.1" ry="4.8" fill="#000"/>
<ellipse cx="1807.2" cy="1142.6" rx="5.1" ry="4.8" fill="#000"/>
<rect x="1182.4" y="754.8" width="796.6" height="499.6" fill="none" stroke="#000" stroke-width="5.2" stroke-linejoin="miter"/>
<line x1="1182.4" y1="854.9" x2="1190.9" y2="854.9" stroke="#000" stroke-width="3.8" />
<line x1="1182.4" y1="955.7" x2="1190.9" y2="955.7" stroke="#000" stroke-width="3.8" />
<line x1="1182.4" y1="1054.6" x2="1190.9" y2="1054.6" stroke="#000" stroke-width="3.8" />
<line x1="1182.4" y1="1154.4" x2="1190.9" y2="1154.4" stroke="#000" stroke-width="3.8" />
<line x1="1380.9" y1="1254.4" x2="1380.9" y2="1245.9" stroke="#000" stroke-width="3.8" />
<line x1="1580.7" y1="1254.4" x2="1580.7" y2="1245.9" stroke="#000" stroke-width="3.8" />
<line x1="1780.3" y1="1254.4" x2="1780.3" y2="1245.9" stroke="#000" stroke-width="3.8" />
<text transform="translate(1136.41,767.27) scale(1.1003,1)" style="font-family:'Liberation Serif',serif;font-weight:bold;font-size:34.23px" fill="#000">65</text>
<text transform="translate(1136.41,867.56) scale(1.0697,1)" style="font-family:'Liberation Serif',serif;font-weight:bold;font-size:35.27px" fill="#000">60</text>
<text transform="translate(1136.18,967.86) scale(1.0952,1)" style="font-family:'Liberation Serif',serif;font-weight:bold;font-size:34.61px" fill="#000">55</text>
<text transform="translate(1136.18,1067.46) scale(1.0810,1)" style="font-family:'Liberation Serif',serif;font-weight:bold;font-size:35.12px" fill="#000">50</text>
<text transform="translate(1137.2,1167.75) scale(1.0172,1)" style="font-family:'Liberation Serif',serif;font-weight:bold;font-size:36.23px" fill="#000">45</text>
<text transform="translate(1137.2,1266.97) scale(1.0782,1)" style="font-family:'Liberation Serif',serif;font-weight:bold;font-size:34.23px" fill="#000">40</text>
<text transform="translate(1157.84,1296.29) scale(1.0695,1)" style="font-family:'Liberation Serif',serif;font-weight:bold;font-size:35.92px" fill="#000">0.0</text>
<text transform="translate(1357.34,1296.29) scale(1.0705,1)" style="font-family:'Liberation Serif',serif;font-weight:bold;font-size:35.92px" fill="#000">0.5</text>
<text transform="translate(1555.82,1296.29) scale(1.1043,1)" style="font-family:'Liberation Serif',serif;font-weight:bold;font-size:35.92px" fill="#000">1.0</text>
<text transform="translate(1755.23,1296.29) scale(1.0949,1)" style="font-family:'Liberation Serif',serif;font-weight:bold;font-size:36.18px" fill="#000">1.5</text>
<text transform="translate(1954.98,1296.29) scale(1.0754,1)" style="font-family:'Liberation Serif',serif;font-weight:bold;font-size:35.92px" fill="#000">2.0</text>
<text transform="translate(1085,1213.1) rotate(-90) translate(-0.68,27.71) scale(0.9924,1)" style="font-family:'Liberation Serif',serif;font-weight:bold;font-size:39.94px" fill="#000">Microbial N/P limitation</text>
<text transform="translate(1377.78,1350.63) scale(1.1066,1)" style="font-family:'Liberation Serif',serif;font-weight:bold;font-size:38.09px" fill="#000">Microbial C limitation</text>
<text transform="translate(1688.36,794.7) scale(1.0482,1)" style="font-family:'Liberation Serif',serif;font-size:26.46px" fill="#000">y = -10.51x +65.61</text>
<text transform="translate(1687.89,834) scale(1.0621,1)" style="font-family:'Liberation Serif',serif;font-size:26.44px">R<tspan style="font-size:16.39px" dy="-11.1">2</tspan><tspan dy="11.1"> = 0.2725 </tspan><tspan style="font-style:italic">P</tspan>&lt;0.001</text>
</svg>
</body></html>
